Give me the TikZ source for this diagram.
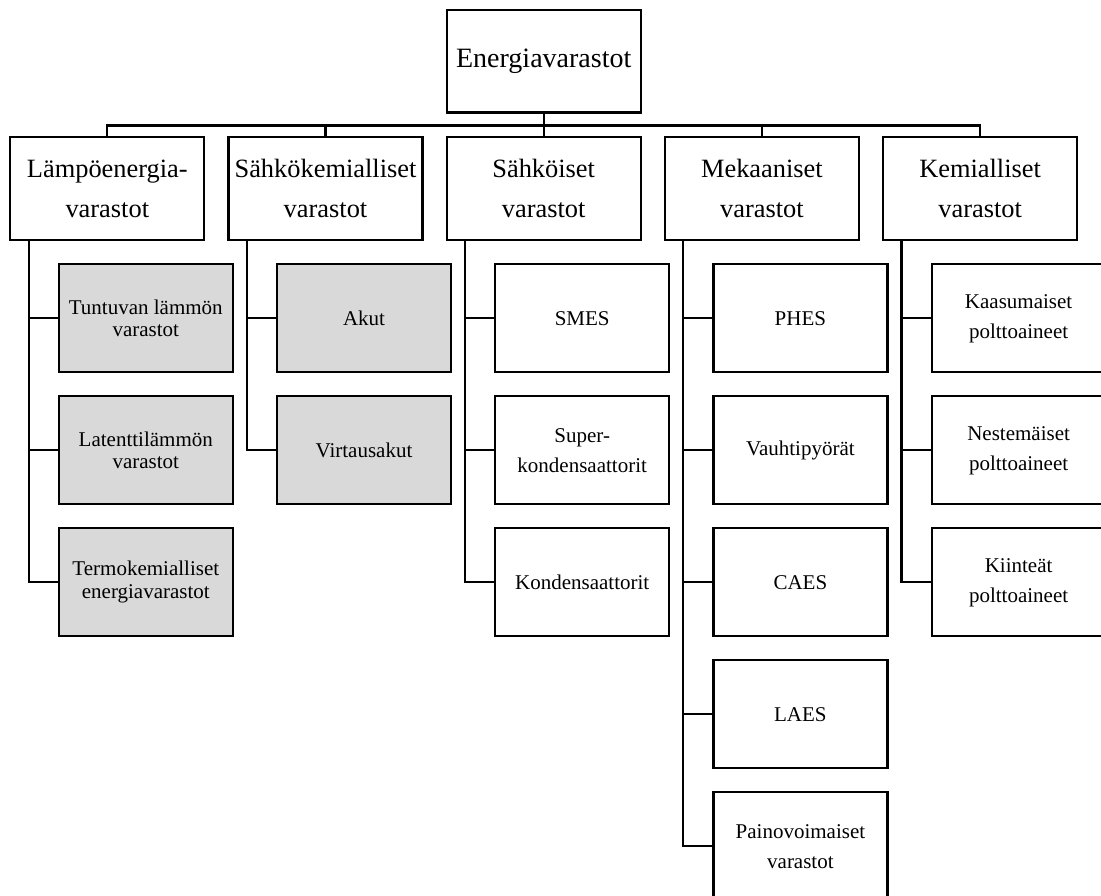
\documentclass[tikz,border=0pt]{standalone}
\usepackage{fontspec}
\setmainfont{Liberation Serif}
\definecolor{cellgray}{RGB}{217,217,217}

\begin{document}
\begin{tikzpicture}[x=0.5pt, y=-0.5pt, line width=1.1pt]
				\tikzstyle{every node}=[inner sep=0pt, align=center]
				\tikzstyle{rootbox}=[draw, minimum width=97pt, minimum height=51.2pt, font=\fontsize{14}{20}\selectfont]
				\tikzstyle{groupbox}=[draw, minimum width=97pt, minimum height=51.2pt, font=\fontsize{13.2}{20}\selectfont]
				\tikzstyle{itembox}=[draw, minimum width=87pt, minimum height=54pt, font=\fontsize{10.5}{15}\selectfont]
				\tikzstyle{greybox}=[itembox, fill=cellgray, font=\fontsize{10.5}{11.4}\selectfont]
				\useasboundingbox (0, 0) rectangle (1101, 895);
				\clip (0, 0) rectangle (1101, 895);
				% top level
				\node[rootbox] (root) at (543.7, 61.2) {Energiavarastot};
				% storage groups
				\node[groupbox] (lampo) at (107.3, 188.5) {Lämpöenergia-\\varastot};
				\node[groupbox] (sahkokem) at (325.5, 188.5) {Sähkökemialliset\\varastot};
				\node[groupbox] (sahko) at (543.7, 188.5) {Sähköiset\\varastot};
				\node[groupbox] (mekaan) at (761.9, 188.5) {Mekaaniset\\varastot};
				\node[groupbox] (kemial) at (980.1, 188.5) {Kemialliset\\varastot};
				% heat storage
				\node[greybox] (tuntuva) at (145.8, 318.3) {Tuntuvan lämmön\\varastot};
				\node[greybox] (latentti) at (145.8, 450.3) {Latenttilämmön\\varastot};
				\node[greybox] (termo) at (145.8, 582.3) {Termokemialliset\\energiavarastot};
				% electrochemical
				\node[greybox] (akut) at (364, 318.3) {Akut};
				\node[greybox] (virtaus) at (364, 450.3) {Virtausakut};
				% electrical
				\node[itembox] (smes) at (582.2, 318.3) {SMES};
				\node[itembox] (superk) at (582.2, 450.3) {Super-\\kondensaattorit};
				\node[itembox] (konden) at (582.2, 582.3) {Kondensaattorit};
				% mechanical
				\node[itembox] (phes) at (800.4, 318.3) {PHES};
				\node[itembox] (vauhti) at (800.4, 450.3) {Vauhtipyörät};
				\node[itembox] (caes) at (800.4, 582.3) {CAES};
				\node[itembox] (laes) at (800.4, 714.3) {LAES};
				\node[itembox] (paino) at (800.4, 846.3) {Painovoimaiset\\varastot};
				% chemical
				\node[itembox] (kaasu) at (1018.6, 318.3) {Kaasumaiset\\polttoaineet};
				\node[itembox] (neste) at (1018.6, 450.3) {Nestemäiset\\polttoaineet};
				\node[itembox] (kiinte) at (1018.6, 582.3) {Kiinteät\\polttoaineet};
				% connectors
				\foreach \g in {lampo, sahkokem, sahko, mekaan, kemial}
					\draw (root.south) -- ++(0, 12) -| (\g.north);
				\foreach \c in {tuntuva, latentti, termo}
					\draw (lampo.south west) ++(19.5, 0) |- (\c.west);
				\foreach \c in {akut, virtaus}
					\draw (sahkokem.south west) ++(19.5, 0) |- (\c.west);
				\foreach \c in {smes, superk, konden}
					\draw (sahko.south west) ++(19.5, 0) |- (\c.west);
				\foreach \c in {phes, vauhti, caes, laes, paino}
					\draw (mekaan.south west) ++(19.5, 0) |- (\c.west);
				\foreach \c in {kaasu, neste, kiinte}
					\draw (kemial.south west) ++(19.5, 0) |- (\c.west);
		\end{tikzpicture}
\end{document}
